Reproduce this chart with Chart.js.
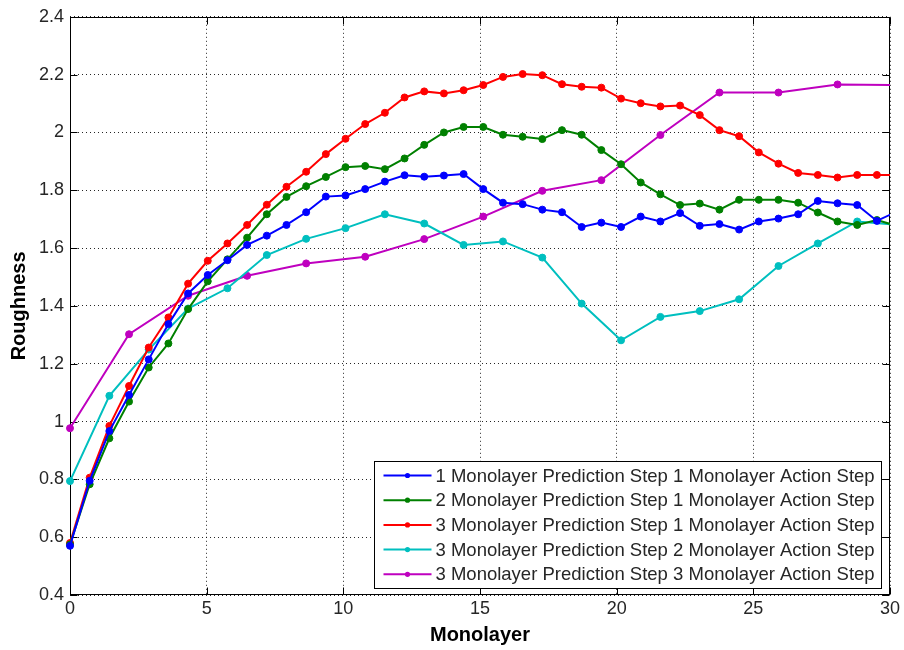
<!DOCTYPE html>
<html>
<head>
<meta charset="utf-8">
<title>Roughness vs Monolayer</title>
<script src="https://cdn.jsdelivr.net/npm/chart.js@4"></script>
<style>
  html, body { margin: 0; padding: 0; background: #fff; }
  canvas { display: block; }
</style>
</head>
<body>
<canvas id="roughChart" width="904" height="650"></canvas>
<script>
// sample positions (monolayers) for each sampling step
const monolayerStep1 = [0, 0.72, 1.44, 2.16, 2.88, 3.6, 4.32, 5.04, 5.76, 6.48, 7.2, 7.92, 8.64, 9.36,
  10.08, 10.8, 11.52, 12.24, 12.96, 13.68, 14.4, 15.12, 15.84, 16.56, 17.28, 18, 18.72, 19.44,
  20.16, 20.88, 21.6, 22.32, 23.04, 23.76, 24.48, 25.2, 25.92, 26.64, 27.36, 28.08, 28.8, 29.52, 30.24];
const monolayerStep2 = [0, 1.44, 2.88, 4.32, 5.76, 7.2, 8.64, 10.08, 11.52, 12.96, 14.4, 15.84,
  17.28, 18.72, 20.16, 21.6, 23.04, 24.48, 25.92, 27.36, 28.8, 30.24];
const monolayerStep3 = [0, 2.16, 4.32, 6.48, 8.64, 10.8, 12.96, 15.12, 17.28, 19.44, 21.6, 23.76,
  25.92, 28.08, 30.24];

// roughness per controller setting
const pred1act1 = [0.57, 0.795, 0.967, 1.092, 1.215, 1.337, 1.443, 1.507, 1.558, 1.611, 1.643, 1.68,
  1.724, 1.778, 1.782, 1.804, 1.83, 1.852, 1.847, 1.851, 1.856, 1.804, 1.757, 1.752, 1.733, 1.724,
  1.673, 1.688, 1.673, 1.709, 1.692, 1.721, 1.677, 1.683, 1.664, 1.692, 1.702, 1.717, 1.763, 1.755,
  1.749, 1.694, 1.726];
const pred2act1 = [0.575, 0.783, 0.942, 1.069, 1.187, 1.27, 1.389, 1.485, 1.561, 1.636, 1.717, 1.777,
  1.814, 1.846, 1.88, 1.884, 1.873, 1.91, 1.957, 2.0, 2.019, 2.019, 1.992, 1.985, 1.977, 2.008,
  1.992, 1.939, 1.89, 1.827, 1.786, 1.749, 1.754, 1.733, 1.767, 1.767, 1.767, 1.757, 1.723, 1.692,
  1.68, 1.697, 1.677];
const pred3act1 = [0.58, 0.806, 0.985, 1.123, 1.256, 1.36, 1.477, 1.556, 1.616, 1.68, 1.75, 1.812,
  1.864, 1.925, 1.978, 2.029, 2.068, 2.121, 2.142, 2.135, 2.146, 2.164, 2.192, 2.202, 2.198, 2.167,
  2.158, 2.155, 2.117, 2.101, 2.09, 2.093, 2.06, 2.008, 1.987, 1.931, 1.892, 1.86, 1.853, 1.844,
  1.853, 1.853, 1.853];
const pred3act2 = [0.794, 1.089, 1.249, 1.391, 1.461, 1.576, 1.632, 1.669, 1.717, 1.685, 1.611, 1.623,
  1.567, 1.408, 1.281, 1.362, 1.382, 1.423, 1.538, 1.616, 1.692, 1.681];
const pred3act3 = [0.977, 1.302, 1.435, 1.504, 1.547, 1.57, 1.631, 1.709, 1.798, 1.835, 1.991, 2.138,
  2.138, 2.166, 2.164];

const seriesLabels = [
  "1 Monolayer Prediction Step 1 Monolayer Action Step",
  "2 Monolayer Prediction Step 1 Monolayer Action Step",
  "3 Monolayer Prediction Step 1 Monolayer Action Step",
  "3 Monolayer Prediction Step 2 Monolayer Action Step",
  "3 Monolayer Prediction Step 3 Monolayer Action Step",
];
const seriesColors = ["#0000ff", "#008000", "#ff0000", "#00bfbf", "#bf00bf"];

const FONT = '"Liberation Sans", Arial, Helvetica, sans-serif';

function pairs(xs, ys) {
  return ys.map((v, i) => ({ x: xs[i], y: v }));
}

function makeSet(idx, xs, ys) {
  return {
    label: seriesLabels[idx],
    data: pairs(xs, ys),
    borderColor: seriesColors[idx],
    backgroundColor: seriesColors[idx],
    borderWidth: 2,
    pointRadius: 3.5,
    pointBorderWidth: 1,
    pointStyle: "circle",
    tension: 0,
    clip: { left: 6, top: 6, right: 0, bottom: 6 },
  };
}

// axes box with inward tick marks
const axesBox = {
  id: "axesBox",
  beforeDatasetsDraw(chart) {
    const { ctx, chartArea: a, scales } = chart;
    const L = Math.round(a.left) + 0.5, R = Math.round(a.right) - 0.5;
    const T = Math.round(a.top) + 0.5, B = Math.round(a.bottom) - 0.5;
    const len = 7;
    ctx.save();
    ctx.strokeStyle = "#000";
    ctx.lineWidth = 1;
    ctx.strokeRect(L, T, R - L, B - T);
    ctx.beginPath();
    scales.y.ticks.forEach(t => {
      const py = Math.round(scales.y.getPixelForValue(t.value)) + 0.5;
      ctx.moveTo(L, py); ctx.lineTo(L + len, py);
      ctx.moveTo(R, py); ctx.lineTo(R - len, py);
    });
    scales.x.ticks.forEach(t => {
      const px = Math.round(scales.x.getPixelForValue(t.value)) + 0.5;
      ctx.moveTo(px, B); ctx.lineTo(px, B - len);
      ctx.moveTo(px, T); ctx.lineTo(px, T + len);
    });
    ctx.stroke();
    ctx.restore();
  },
};

// legend boxed inside the lower right of the plot
const insideLegend = {
  id: "insideLegend",
  afterDatasetsDraw(chart) {
    const { ctx, chartArea: a } = chart;
    const sets = chart.data.datasets;
    ctx.save();
    ctx.font = "18.5px " + FONT;
    const textW = Math.max(...sets.map(d => ctx.measureText(d.label).width));
    const rowH = 24.7;
    const w = Math.round(61 + textW + 7);
    const h = Math.round(28 + rowH * (sets.length - 1));
    const x0 = Math.round(a.right - 9 - w) + 0.5;
    const y0 = Math.round(a.bottom - 7 - h) + 0.5;
    ctx.fillStyle = "#fff";
    ctx.fillRect(x0, y0, w, h);
    ctx.strokeStyle = "#000";
    ctx.lineWidth = 1;
    ctx.strokeRect(x0, y0, w, h);
    sets.forEach((d, i) => {
      const cy = y0 + 14 + i * rowH;
      ctx.strokeStyle = d.borderColor;
      ctx.lineWidth = 2;
      ctx.beginPath();
      ctx.moveTo(x0 + 9, cy);
      ctx.lineTo(x0 + 57, cy);
      ctx.stroke();
      ctx.fillStyle = d.borderColor;
      ctx.beginPath();
      ctx.arc(x0 + 33, cy, 2.6, 0, Math.PI * 2);
      ctx.fill();
      ctx.fillStyle = "#262626";
      ctx.textBaseline = "middle";
      ctx.textAlign = "left";
      ctx.fillText(d.label, x0 + 61, cy + 1);
    });
    ctx.restore();
  },
};

const ctx = document.getElementById("roughChart").getContext("2d");

const roughChart = new Chart(ctx, {
  type: "line",
  data: {
    datasets: [
      makeSet(0, monolayerStep1, pred1act1),
      makeSet(1, monolayerStep1, pred2act1),
      makeSet(2, monolayerStep1, pred3act1),
      makeSet(3, monolayerStep2, pred3act2),
      makeSet(4, monolayerStep3, pred3act3),
    ],
  },
  options: {
    responsive: false,
    animation: false,
    devicePixelRatio: 1,
    layout: { padding: { left: 0, right: 14, top: 16, bottom: 0 } },
    plugins: {
      legend: { display: false },
      tooltip: { enabled: false },
    },
    scales: {
      x: {
        type: "linear",
        min: 0,
        max: 30,
        afterFit: s => { s.height = 55; },
        ticks: {
          stepSize: 5,
          padding: 3,
          color: "#262626",
          font: { family: FONT, size: 18 },
          callback: v => String(v),
        },
        grid: { color: "rgba(0,0,0,0.85)", lineWidth: 1, drawTicks: false },
        border: { display: false, dash: [1, 3] },
        title: {
          display: true,
          text: "Monolayer",
          color: "#000",
          font: { family: FONT, size: 20, weight: "bold" },
          padding: { top: 0, bottom: 3 },
        },
      },
      y: {
        type: "linear",
        min: 0.4,
        max: 2.4,
        afterFit: s => { s.width = 70; },
        ticks: {
          stepSize: 0.2,
          padding: 6,
          color: "#262626",
          font: { family: FONT, size: 18 },
          callback: v => String(parseFloat(v.toFixed(2))),
        },
        grid: { color: "rgba(0,0,0,0.85)", lineWidth: 1, drawTicks: false },
        border: { display: false, dash: [1, 3] },
        title: {
          display: true,
          text: "Roughness",
          color: "#000",
          font: { family: FONT, size: 20, weight: "bold" },
          padding: { top: 7, bottom: 0 },
        },
      },
    },
  },
  plugins: [axesBox, insideLegend],
});
</script>
</body>
</html>
